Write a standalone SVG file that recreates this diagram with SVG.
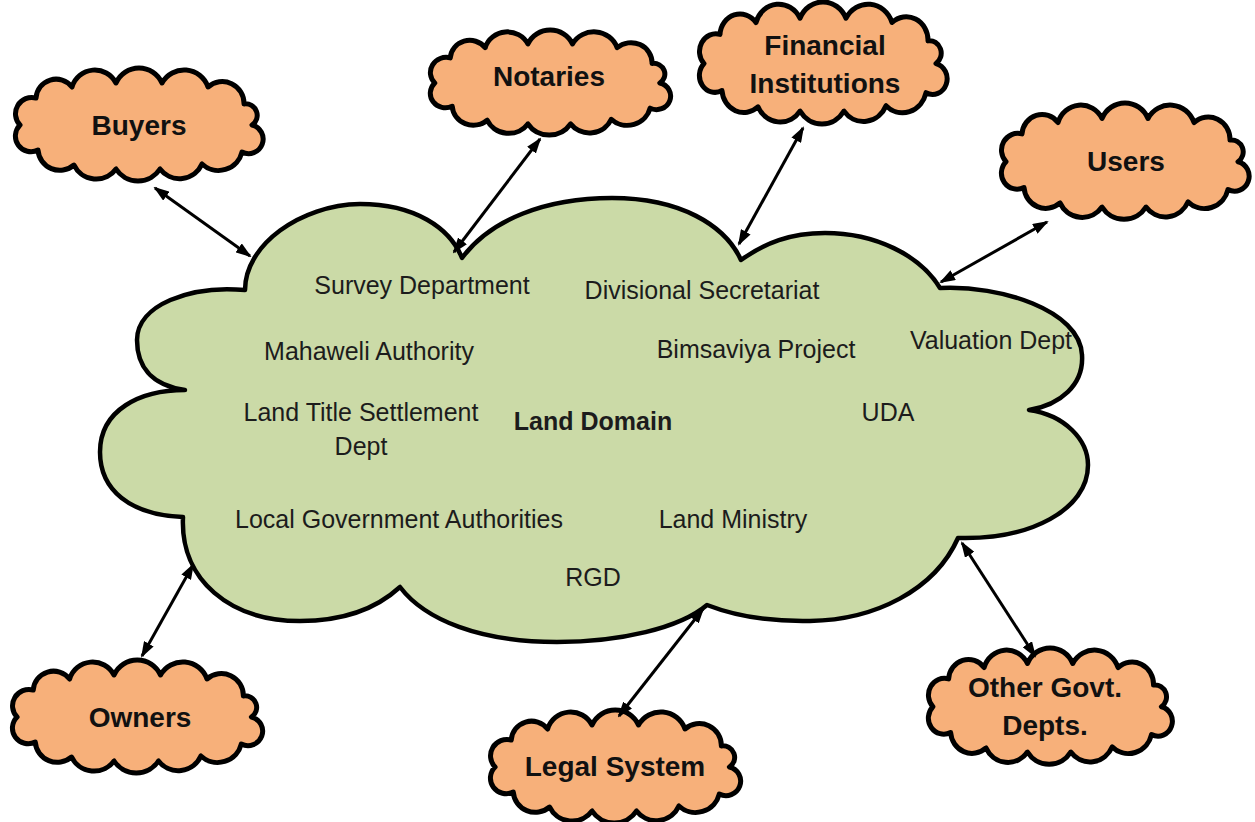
<svg xmlns="http://www.w3.org/2000/svg" xmlns:xlink="http://www.w3.org/1999/xlink" width="1255" height="822" viewBox="0 0 1255 822">
<style>
.bg{fill:#ffffff}
.main{fill:#CBDAA7;stroke:#000;stroke-width:4.5;stroke-linejoin:round}
.small{fill:#F7B07A;stroke:#000;stroke-width:5;stroke-linejoin:round;vector-effect:non-scaling-stroke}
.lbl{font-family:"Liberation Sans",Arial,sans-serif;font-size:25px;fill:#1c1c1c;text-anchor:middle}
.bold{font-weight:bold}
.olbl{font-family:"Liberation Sans",Arial,sans-serif;font-size:28px;font-weight:bold;fill:#111;text-anchor:middle}
.conn{stroke:#000;stroke-width:3;fill:none;marker-start:url(#ah);marker-end:url(#ah)}
</style>
<defs>
<marker id="ah" markerUnits="userSpaceOnUse" viewBox="0 0 16 11" markerWidth="16" markerHeight="11" refX="14" refY="5.5" orient="auto-start-reverse">
<path d="M0,0 L16,5.5 L0,11 Z" fill="#000"/>
</marker>
<path id="cloud" class="small" d="M 8 57 A 16.3 16.3 0 0 1 24 30 A 20.1 20.1 0 0 1 60 19 A 23.8 23.8 0 0 1 104 15 A 25.1 25.1 0 0 1 150 15 A 25.3 25.3 0 0 1 196 19 A 21.7 21.7 0 0 1 232 36 A 11.5 11.5 0 0 1 240 57 A 14.5 14.5 0 1 1 230 84 A 24.2 24.2 0 0 1 190 96 A 24.6 24.6 0 0 1 148 101 A 26.2 26.2 0 0 1 104 101 A 24.5 24.5 0 0 1 62 97 A 21.8 21.8 0 0 1 26 82 A 15.6 15.6 0 0 1 8 57 Z"/>
</defs>
<rect class="bg" x="0" y="0" width="1255" height="822"/>

<g id="land-domain">
<path class="main" d="M 245 290 C 245 245, 300 205, 360 204 C 415 204, 450 228, 462 258 C 490 220, 545 198, 612 198 C 680 198, 725 225, 741 260 C 765 243, 790 233, 825 233 C 875 233, 920 255, 940 288 C 1000 285, 1080 310, 1082 355 C 1084 385, 1060 405, 1029 410 C 1065 415, 1088 440, 1088 465 C 1088 510, 1030 540, 958 538 C 935 590, 875 620, 810 621 C 760 622, 725 612, 707 605 C 680 628, 620 642, 557 642 C 480 642, 425 620, 400 587 C 375 610, 340 621, 300 621 C 230 621, 180 580, 183 517 C 130 515, 100 490, 100 452 C 100 410, 140 390, 185 390 C 150 385, 137 365, 137 340 C 137 305, 190 285, 245 290 Z"/>
<text class="lbl" x="422" y="294">Survey Department</text>
<text class="lbl" x="702" y="299">Divisional Secretariat</text>
<text class="lbl" x="369" y="360">Mahaweli Authority</text>
<text class="lbl" x="756" y="358">Bimsaviya Project</text>
<text class="lbl" x="991" y="349">Valuation Dept</text>
<text class="lbl" x="361" y="421">Land Title Settlement</text>
<text class="lbl" x="361" y="455">Dept</text>
<text class="lbl bold" x="593" y="430">Land Domain</text>
<text class="lbl" x="888" y="421">UDA</text>
<text class="lbl" x="399" y="528">Local Government Authorities</text>
<text class="lbl" x="733" y="528">Land Ministry</text>
<text class="lbl" x="593" y="586">RGD</text>
</g>

<g id="buyers">
<use xlink:href="#cloud" href="#cloud" transform="translate(12,68)"/>
<text class="olbl" x="139" y="135">Buyers</text>
</g>
<g id="notaries">
<use xlink:href="#cloud" href="#cloud" transform="translate(427,30) scale(0.97,0.93)"/>
<text class="olbl" x="549" y="86">Notaries</text>
</g>
<g id="financial-institutions">
<use xlink:href="#cloud" href="#cloud" transform="translate(696,2) scale(1.0,1.08)"/>
<text class="olbl" x="825" y="55">Financial</text>
<text class="olbl" x="825" y="93">Institutions</text>
</g>
<g id="users">
<use xlink:href="#cloud" href="#cloud" transform="translate(998,103) scale(1.0,1.03)"/>
<text class="olbl" x="1126" y="171">Users</text>
</g>
<g id="owners">
<use xlink:href="#cloud" href="#cloud" transform="translate(9,660) scale(1.01,1.0)"/>
<text class="olbl" x="140" y="727">Owners</text>
</g>
<g id="legal-system">
<use xlink:href="#cloud" href="#cloud" transform="translate(487,710) scale(1.01,1.0)"/>
<text class="olbl" x="615" y="776">Legal System</text>
</g>
<g id="other-govt-depts">
<use xlink:href="#cloud" href="#cloud" transform="translate(925,648) scale(0.985,1.03)"/>
<text class="olbl" x="1045" y="697">Other Govt.</text>
<text class="olbl" x="1045" y="735">Depts.</text>
</g>

<g id="connectors">
<line class="conn" x1="155" y1="188" x2="250" y2="256"/>
<line class="conn" x1="540" y1="139" x2="454" y2="252"/>
<line class="conn" x1="803" y1="128" x2="739" y2="244"/>
<line class="conn" x1="1047" y1="222" x2="941" y2="282"/>
<line class="conn" x1="193" y1="565" x2="142" y2="656"/>
<line class="conn" x1="703" y1="609" x2="619" y2="716"/>
<line class="conn" x1="962" y1="543" x2="1035" y2="656"/>
</g>
</svg>
